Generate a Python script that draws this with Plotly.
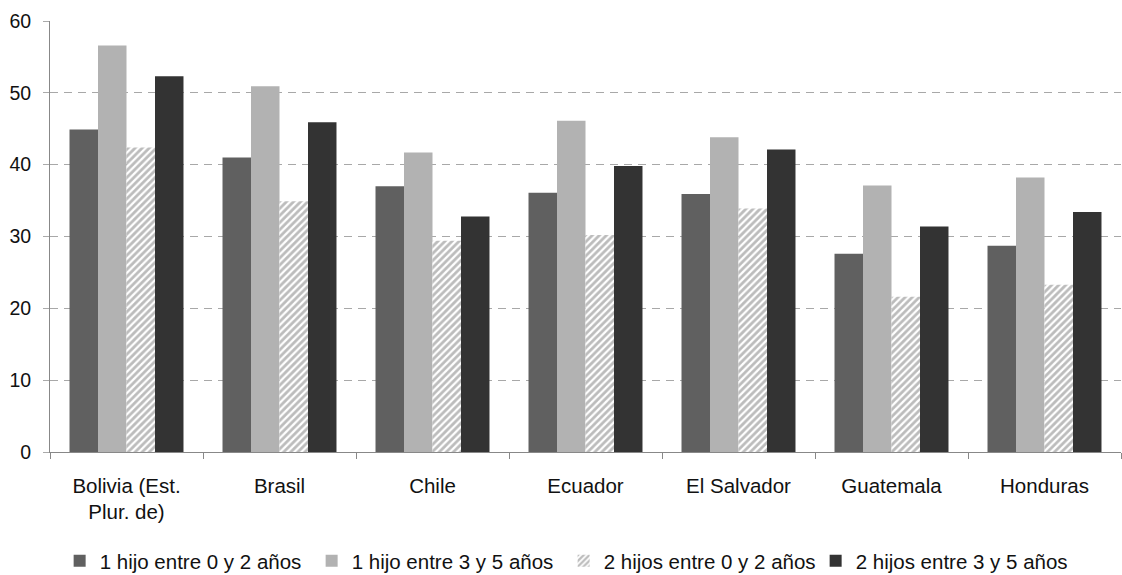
import plotly.graph_objects as go

categories = ["Bolivia (Est.<br>Plur. de)", "Brasil", "Chile", "Ecuador", "El Salvador", "Guatemala", "Honduras"]
series_names = ["1 hijo entre 0 y 2 años", "1 hijo entre 3 y 5 años", "2 hijos entre 0 y 2 años", "2 hijos entre 3 y 5 años"]
s1 = [44.9, 41.0, 37.0, 36.1, 35.9, 27.6, 28.7]
s2 = [56.6, 50.9, 41.7, 46.1, 43.8, 37.1, 38.2]
s3 = [42.4, 34.9, 29.4, 30.2, 33.9, 21.6, 23.3]
s4 = [52.3, 45.9, 32.8, 39.8, 42.1, 31.4, 33.4]
y_ticks = [0, 10, 20, 30, 40, 50, 60]

fig = go.Figure()
fig.add_trace(go.Bar(name=series_names[0], x=categories, y=s1, marker=dict(color="#606060", line=dict(width=0))))
fig.add_trace(go.Bar(name=series_names[1], x=categories, y=s2, marker=dict(color="#b2b2b2", line=dict(width=0))))
fig.add_trace(go.Bar(name=series_names[2], x=categories, y=s3,
                     marker=dict(color="#ffffff", line=dict(width=0),
                                 pattern=dict(shape="/", fgcolor="#7a7a7a", bgcolor="#ffffff", size=5, solidity=0.55))))
fig.add_trace(go.Bar(name=series_names[3], x=categories, y=s4, marker=dict(color="#333333", line=dict(width=0))))

fig.update_layout(
    width=1122, height=575,
    margin=dict(l=50, r=1, t=21, b=123, autoexpand=False),
    paper_bgcolor="white", plot_bgcolor="white",
    barmode="group", bargap=0.255, bargroupgap=0,
    font=dict(family="Liberation Sans, Arial, sans-serif", size=20, color="#111111"),
    showlegend=True,
    legend=dict(orientation="h", x=0.009, xanchor="left", y=(452 - 561) / 431, yanchor="middle",
                font=dict(size=20.5, color="#111111"), traceorder="normal", itemwidth=30,
                entrywidth=207, entrywidthmode="pixels"),
    xaxis=dict(showline=True, linecolor="#888888", linewidth=1, ticks="outside",
               ticklen=6, tickcolor="#888888", tickson="boundaries", showgrid=False,
               tickfont=dict(size=20.5, color="#111111"), ticklabelstandoff=15, automargin=False),
    yaxis=dict(range=[0, 60], tickvals=y_ticks, showline=True, linecolor="#888888", linewidth=1,
               ticks="outside", ticklen=6, tickcolor="#aaaaaa", showgrid=True,
               gridcolor="#a8a8a8", griddash="8px,6px", gridwidth=1, zeroline=False,
               tickfont=dict(size=19.5, color="#111111"), ticklabelstandoff=8, automargin=False),
)

fig.write_html("out.html", config={"displayModeBar": False},
               post_script="document.body.style.margin='0';")
